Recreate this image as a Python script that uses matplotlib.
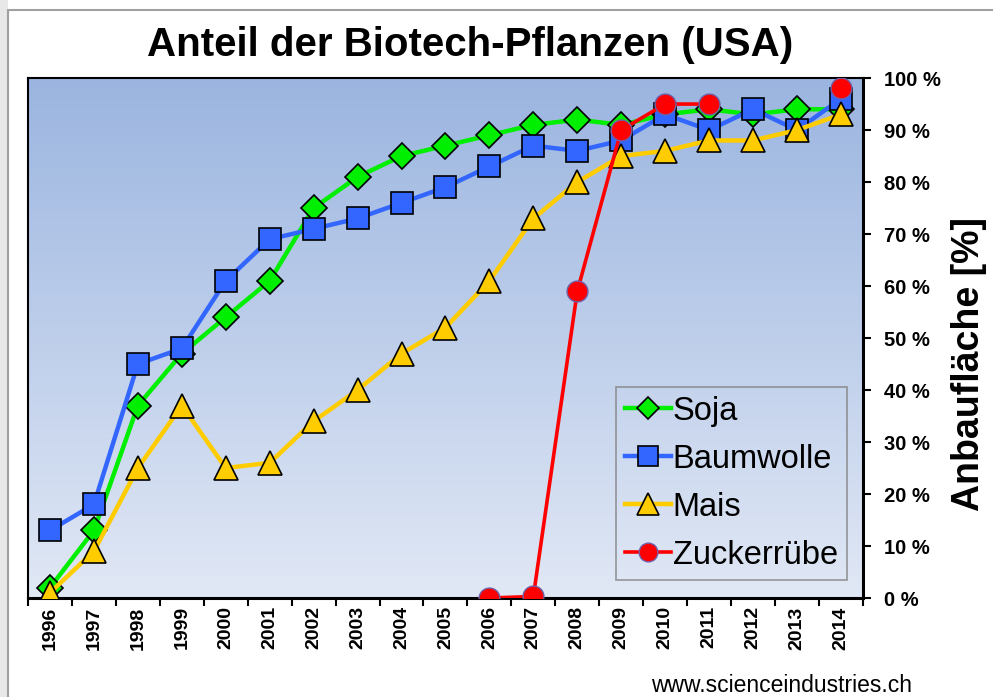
import numpy as np
import matplotlib
matplotlib.use("Agg")
import matplotlib.pyplot as plt
from matplotlib.colors import LinearSegmentedColormap
from matplotlib.patches import Rectangle

plt.rcParams['font.family'] = ['Liberation Sans', 'DejaVu Sans']

# Jahre (Kategorien)
years = ['1996', '1997', '1998', '1999', '2000', '2001', '2002', '2003', '2004', '2005',
         '2006', '2007', '2008', '2009', '2010', '2011', '2012', '2013', '2014']
# Anteil in %
soja = [2, 13, 37, 47, 54, 61, 75, 81, 85, 87, 89, 91, 92, 91, 93, 94, 93, 94, 94]
baumwolle = [13, 18, 45, 48, 61, 69, 71, 73, 76, 79, 83, 87, 86, 88, 93, 90, 94, 90, 96]
mais = [1, 9, 25, 37, 25, 26, 34, 40, 47, 52, 61, 73, 80, 85, 86, 88, 88, 90, 93]
zucker = [np.nan] * 10 + [0, 0.3, 59, 90, 95, 95, np.nan, np.nan, 98]
y_ticks = [0, 10, 20, 30, 40, 50, 60, 70, 80, 90, 100]

fig = plt.figure(figsize=(9.93, 6.97), dpi=100)
ax = fig.add_axes([0.0282, 0.142, 0.8408, 0.746])

# Hintergrund mit Verlauf
cmap = LinearSegmentedColormap.from_list('bg', ['#E1E8F5', '#9BB5E0'])
grad = np.linspace(0, 1, 256).reshape(-1, 1)
ax.imshow(grad, cmap=cmap, aspect='auto', origin='lower',
          extent=[-0.5, len(years) - 0.5, 0, 100], zorder=0)

x = np.arange(len(years))
ax.plot(x, soja, color='#00EE00', lw=3.2, marker='D', ms=13, mfc='#00EE00',
        mec='black', mew=1.2, label='Soja', zorder=3)
ax.plot(x, baumwolle, color='#3366FF', lw=3.2, marker='s', ms=16, mfc='#3366FF',
        mec='black', mew=1.2, label='Baumwolle', zorder=4)
ax.plot(x, mais, color='#FFCC00', lw=3.2, marker='^', ms=17, mfc='#FFCC00',
        mec='black', mew=1.2, label='Mais', zorder=5)
ax.plot(x, zucker, color='#FF0000', lw=2.6, marker='o', ms=15, mfc='#FF0000',
        mec='#7060A8', mew=1.0, label='Zuckerrübe', zorder=6)

ax.set_xlim(-0.5, len(years) - 0.5)
ax.set_ylim(0, 100)

# X-Achse: Striche zwischen den Jahren
ax.set_xticks(np.arange(-0.5, len(years), 1.0))
ax.set_xticklabels([])
ax.set_xticks(x, minor=True)
ax.set_xticklabels(years, minor=True, rotation=90, fontsize=14, fontweight='bold')
ax.tick_params(axis='x', which='major', direction='out', length=6, width=1.5)
ax.tick_params(axis='x', which='minor', length=0, pad=6)

# Y-Achse rechts
ax.yaxis.tick_right()
ax.yaxis.set_label_position('right')
ax.set_yticks(y_ticks)
ax.set_yticklabels([str(v) + ' %' for v in y_ticks], fontsize=14.5, fontweight='bold')
ax.tick_params(axis='y', direction='out', length=6, width=1.5, pad=9)
ax.set_ylabel('Anbaufläche [%]', fontsize=27, fontweight='bold')
ax.yaxis.set_label_coords(1.105, 0.45)

for s in ax.spines.values():
    s.set_linewidth(1.5)
ax.spines['right'].set_linewidth(2.2)
ax.spines['bottom'].set_linewidth(2.2)

leg = ax.legend(loc='lower right', bbox_to_anchor=(0.981, 0.035), fontsize=23.5,
                frameon=True, fancybox=False, handlelength=1.4, handletextpad=0.05,
                labelspacing=0.52, borderpad=0.28, borderaxespad=0, markerscale=0.9)
leg.get_frame().set_facecolor('none')
leg.get_frame().set_edgecolor('#808080')
leg.get_frame().set_linewidth(1.2)

# Titel und Quelle
fig.text(0.473, 0.935, 'Anteil der Biotech-Pflanzen (USA)', ha='center', va='center',
         fontsize=29, fontweight='bold')
fig.text(0.787, 0.017, 'www.scienceindustries.ch', ha='center', va='center', fontsize=16.5)

# Rahmen der Folie
fig.patches.append(Rectangle((0, 0), 0.008, 1, transform=fig.transFigure,
                             facecolor='#E8E8E8', edgecolor='none'))
fig.patches.append(Rectangle((0.008, -0.01), 0.995, 0.996, transform=fig.transFigure,
                             fill=False, edgecolor='#A0A0A0', lw=1.5))

fig.savefig('out.png', dpi=100)
